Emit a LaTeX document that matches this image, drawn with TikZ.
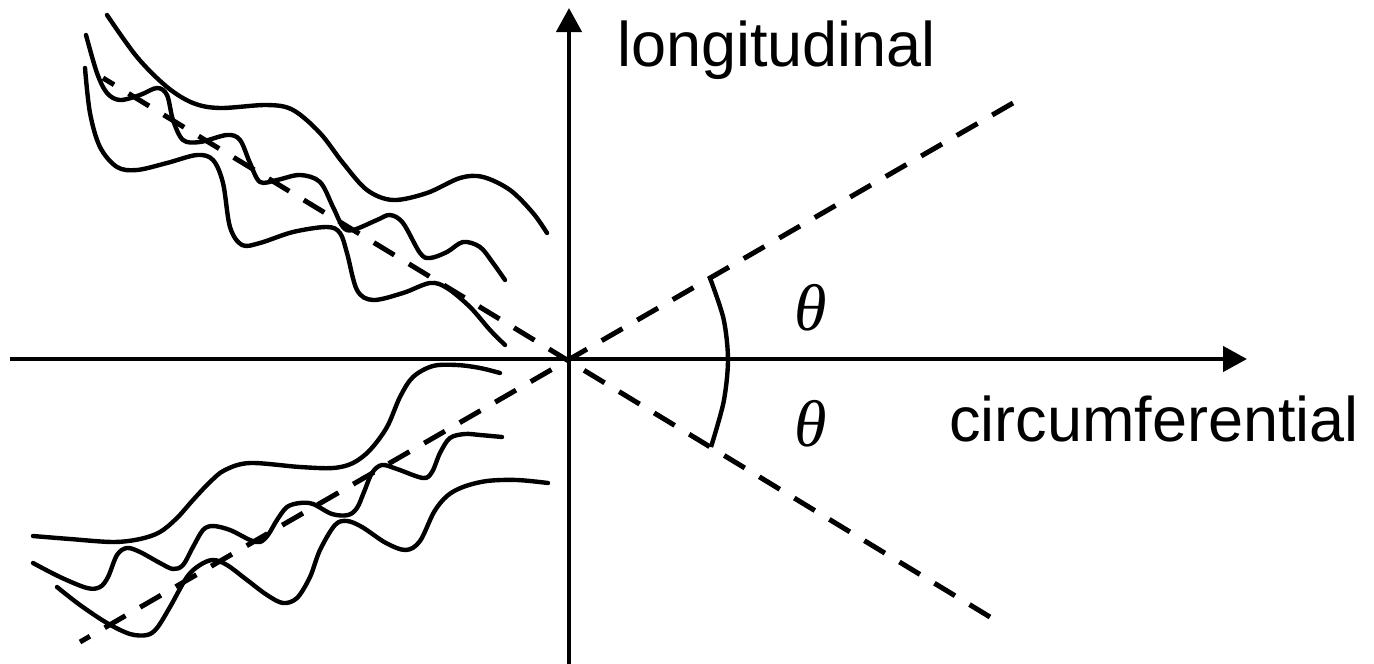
\documentclass[tikz,border=0pt]{standalone}
\usepackage{fontspec}
\setmainfont{Liberation Sans}
\newfontfamily\thetafont{Liberation Serif}
\usetikzlibrary{arrows.meta}
\begin{document}
\begin{tikzpicture}[x=1pt,y=-1pt,
  axisline/.style={line width=4.4pt,-{Triangle[length=24pt,width=25pt]}},
  wave/.style={line width=4.4pt,line cap=round},
  guide/.style={line width=5pt,dash pattern=on 24pt off 17pt},
  lbl/.style={inner sep=0pt,font=\fontsize{63}{70}\selectfont},
  thlbl/.style={inner sep=0pt,font=\thetafont\itshape\fontsize{66}{70}\selectfont}]
\useasboundingbox (0,0) rectangle (1374,664);
\coordinate (O) at (569,359);
\coordinate (xl) at (10,359);
\coordinate (xr) at (1247,359);
\coordinate (yb) at (569,664);
\coordinate (yt) at (569,8);
\coordinate (d1a) at (80,642);
\coordinate (d1b) at (1013,103);
\coordinate (d2a) at (103,78);
\coordinate (d2b) at (990,617);
% axes
\draw[axisline] (xl) -- (xr);
\draw[axisline] (yb) -- (yt);
% dashed guides
\draw[guide] (d1b) -- (d1a);
\draw[guide] (d2b) -- (d2a);
% angle arc
\draw[line width=4.4pt] plot[smooth] coordinates {(710,278) (723.6,319) (728,360) (723.6,402) (711,447)};
% labels
\node[lbl,anchor=base west] (lon) at (617,66.7) {longitudinal};
\node[lbl,anchor=base west] (cir) at (949,441.7) {circumferential};
\node[thlbl,anchor=base] (t1) at (811,330) {θ};
\node[thlbl,anchor=base] (t2) at (811,446) {θ};
% upper fibres
\draw[wave] plot[smooth,tension=0.55] coordinates {(107,15) (137,57) (167,87) (193,103) (220,108) (267,105) (293,110) (320,133) (343,163) (367,190) (393,200) (427,193) (460,178) (483,177) (510,190) (533,213) (547,233)};
\draw[wave] plot[smooth,tension=0.55] coordinates {(86,35) (97,73) (107,93) (120,100) (140,95) (157,88) (167,95) (173,120) (183,140) (200,142) (227,135) (240,140) (250,163) (260,182) (277,180) (300,175) (320,182) (333,207) (343,227) (353,230) (377,220) (390,215) (403,223) (420,253) (430,258) (447,252) (463,242) (480,247) (493,263) (505,280)};
\draw[wave] plot[smooth,tension=0.55] coordinates {(85,68) (90,113) (100,147) (117,167) (137,170) (167,163) (197,155) (213,160) (223,183) (230,227) (242,245) (260,243) (293,232) (327,227) (340,233) (347,253) (357,290) (373,300) (403,293) (430,283) (447,288) (470,307) (490,330) (505,345)};
% lower fibres
\draw[wave] plot[smooth,tension=0.55] coordinates {(33,536) (70,539) (113,542) (140,539) (160,532) (177,518) (193,500) (210,482) (225,470) (250,463) (300,467) (333,468) (353,463) (370,450) (387,427) (400,397) (413,377) (433,366) (457,365) (480,368) (500,373)};
\draw[wave] plot[smooth,tension=0.55] coordinates {(33,563) (60,577) (87,588) (100,587) (108,577) (117,555) (127,548) (140,552) (160,563) (173,569) (183,565) (193,547) (203,530) (213,526) (230,530) (250,540) (260,542) (268,535) (277,520) (287,507) (300,503) (313,504) (332,514) (348,515) (357,508) (364,492) (372,473) (382,465) (397,469) (423,478) (432,472) (440,453) (450,438) (465,434) (480,435) (502,437)};
\draw[wave] plot[smooth,tension=0.55] coordinates {(57,587) (80,605) (107,623) (130,634) (147,635) (157,628) (170,607) (187,577) (200,565) (213,560) (227,565) (247,580) (267,595) (283,603) (297,598) (310,577) (320,550) (335,525) (347,521) (362,527) (386,543) (406,550) (420,541) (434,512) (447,496) (463,487) (487,481) (517,480) (548,483)};
\end{tikzpicture}
\end{document}
